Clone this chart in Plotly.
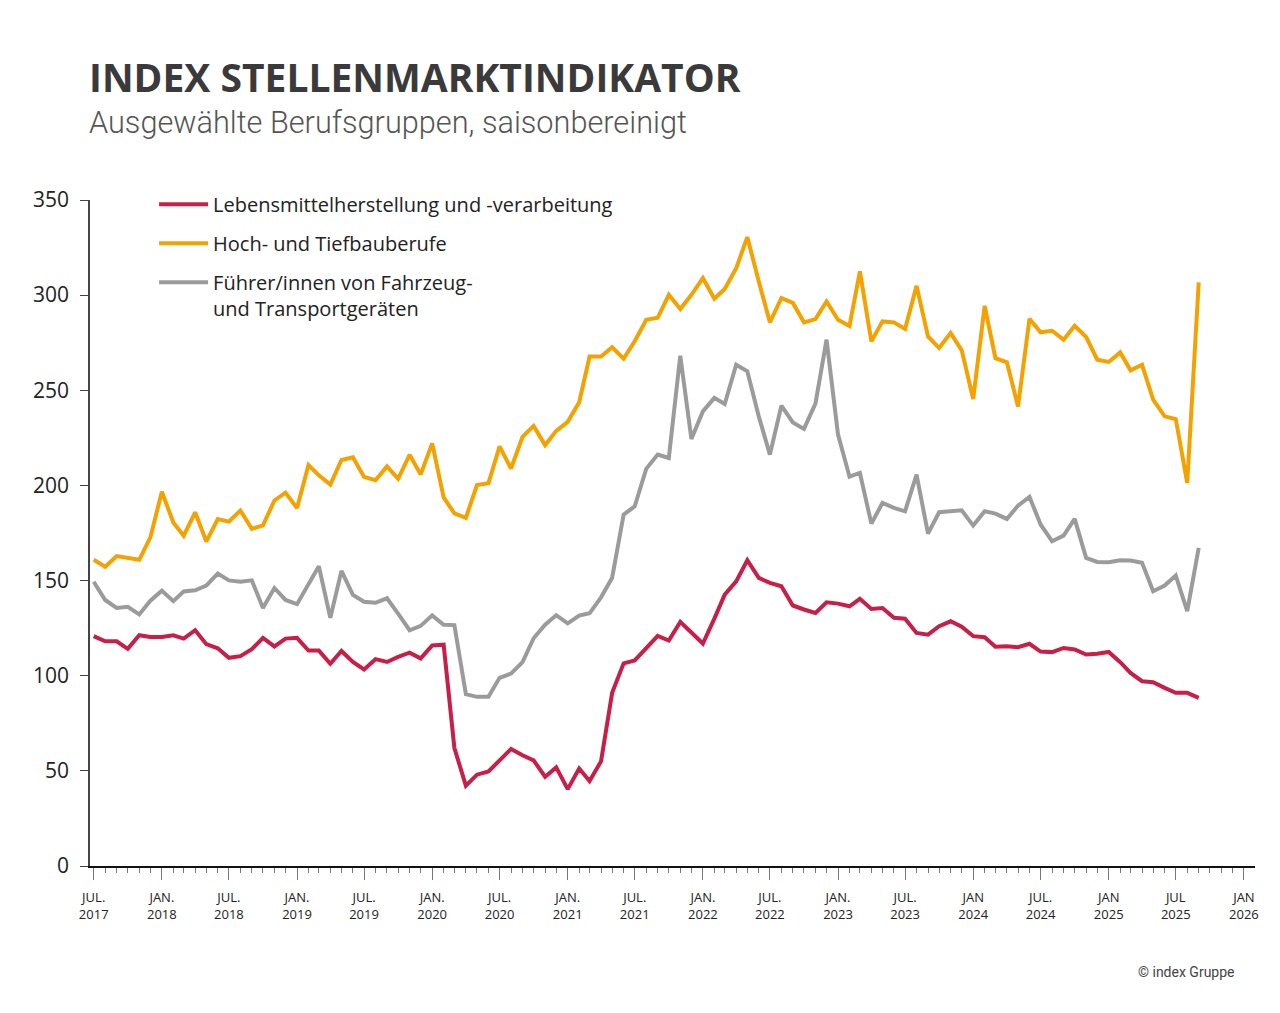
import plotly.graph_objects as go
import pandas as pd

# ---------------- data ----------------
months = pd.date_range("2017-07-01", "2025-09-01", freq="MS")

lebensmittel = [
    120.8, 118.1, 118.1, 114.1, 121.3, 120.3, 120.3, 121.2, 119.5, 123.9,
    116.6, 114.4, 109.4, 110.3, 113.9, 119.9, 115.4, 119.5, 119.9, 113.2,
    113.2, 106.3, 113.0, 107.2, 103.3, 108.7, 107.2, 109.9, 112.1, 109.1,
    115.9, 116.3, 62.0, 42.2, 48.0, 49.7, 55.5, 61.5, 58.2, 55.5,
    46.9, 51.8, 40.4, 51.2, 44.7, 55.0, 91.0, 106.5, 108.0, 114.4,
    120.9, 118.5, 128.3, 122.7, 116.9, 130.0, 142.6, 149.6, 160.7, 151.4,
    148.8, 147.0, 136.9, 134.8, 133.0, 138.6, 137.9, 136.5, 140.4, 135.1,
    135.6, 130.4, 130.0, 122.5, 121.6, 126.0, 128.6, 125.7, 120.8, 120.2,
    115.2, 115.5, 115.0, 116.8, 112.7, 112.4, 114.6, 113.8, 111.1, 111.5,
    112.5, 107.1, 101.5, 97.1, 96.6, 93.6, 91.0, 91.0, 88.4,
]

hochbau = [
    160.9, 157.3, 162.9, 162.0, 160.9, 172.7, 196.7, 180.5, 173.6, 185.9,
    170.5, 182.3, 181.0, 186.8, 177.2, 179.0, 192.1, 196.2, 188.1, 210.7,
    205.3, 200.4, 213.4, 214.8, 204.5, 202.7, 210.0, 203.5, 216.1, 205.8,
    222.1, 193.7, 185.3, 183.0, 200.2, 201.2, 220.5, 208.9, 225.5, 231.3,
    221.2, 228.7, 233.4, 243.7, 267.7, 267.7, 272.6, 266.6, 275.8, 287.0,
    288.1, 300.2, 292.7, 300.2, 309.0, 298.1, 303.2, 314.2, 330.5, 307.2,
    285.7, 298.5, 295.9, 285.7, 287.4, 296.7, 287.1, 283.8, 312.5, 275.7,
    286.2, 285.7, 282.2, 304.9, 278.3, 272.2, 280.1, 271.0, 245.4, 294.4,
    266.9, 264.7, 241.5, 287.6, 280.5, 281.3, 276.6, 283.9, 278.0, 266.1,
    264.9, 269.9, 260.5, 263.4, 245.1, 236.3, 234.9, 201.3, 306.7,
]

fuehrer = [
    149.4, 139.8, 135.6, 136.2, 132.2, 139.4, 144.7, 139.2, 144.3, 144.9,
    147.4, 153.7, 150.1, 149.4, 150.1, 135.6, 146.1, 139.8, 137.6, 147.9,
    157.5, 130.4, 155.1, 142.5, 138.9, 138.3, 140.7, 132.6, 123.9, 126.2,
    131.7, 126.8, 126.6, 90.3, 88.9, 88.9, 98.9, 101.1, 107.1, 119.7,
    126.8, 131.8, 127.5, 131.6, 132.8, 141.2, 151.5, 184.7, 189.0, 208.7,
    216.2, 214.4, 268.2, 224.4, 238.9, 246.0, 242.8, 263.4, 260.0, 236.3,
    216.2, 241.9, 233.1, 229.7, 243.0, 276.6, 226.7, 204.6, 206.6, 179.9,
    190.8, 188.2, 186.4, 205.7, 174.7, 185.9, 186.4, 186.9, 178.9, 186.4,
    185.2, 182.4, 189.4, 194.0, 179.5, 170.7, 173.6, 182.4, 161.9, 159.8,
    159.6, 160.7, 160.5, 159.3, 144.4, 147.4, 152.6, 133.9, 167.2,
]

series_names = [
    "Lebensmittelherstellung und -verarbeitung",
    "Hoch- und Tiefbauberufe",
    "Führer/innen von Fahrzeug-<br>und Transportgeräten",
]
series_colors = ["#C81F48", "#F5A100", "#9B9B9B"]

tick_dates = pd.date_range("2017-07-01", "2026-01-01", freq="6MS")
tick_labels = [
    "JUL.<br>2017", "JAN.<br>2018", "JUL.<br>2018", "JAN.<br>2019",
    "JUL.<br>2019", "JAN.<br>2020", "JUL.<br>2020", "JAN.<br>2021",
    "JUL.<br>2021", "JAN.<br>2022", "JUL.<br>2022", "JAN.<br>2023",
    "JUL.<br>2023", "JAN<br>2024", "JUL.<br>2024", "JAN<br>2025",
    "JUL<br>2025", "JAN<br>2026",
]
y_ticks = [0, 50, 100, 150, 200, 250, 300, 350]

title_text = "INDEX STELLENMARKTINDIKATOR"
subtitle_text = "Ausgewählte Berufsgruppen, saisonbereinigt"
source_text = "© index Gruppe"

# ---------------- figure ----------------
FONT = "Open Sans"
fig = go.Figure()
for name, vals, col in zip(series_names, [lebensmittel, hochbau, fuehrer], series_colors):
    fig.add_trace(go.Scatter(
        x=months, y=vals, mode="lines", name=name, legendgroup=name,
        line=dict(color=col, width=4),
        hoverinfo="skip",
    ))

fig.update_layout(
    width=1280, height=1013,
    margin=dict(l=82, r=33, t=192, b=155),
    paper_bgcolor="white", plot_bgcolor="white",
    font=dict(family=FONT, color="#222222"),
    showlegend=True,
    legend=dict(
        x=0.055, y=1.023, xanchor="left", yanchor="top",
        font=dict(family=FONT, size=20, color="#222222"),
        bgcolor="rgba(0,0,0,0)", borderwidth=0,
        tracegroupgap=10, valign="top", itemwidth=49,
    ),
    xaxis=dict(
        type="date",
        range=["2017-06-21", "2026-01-31"],
        showgrid=False, zeroline=False,
        showline=True, linecolor="#111111", linewidth=2,
        tickmode="array", tickvals=tick_dates, ticktext=tick_labels,
        ticks="outside", ticklen=12, tickwidth=1, tickcolor="#777777",
        tickfont=dict(family=FONT, size=13, color="#222222"),
        ticklabelstandoff=6,
        minor=dict(ticks="outside", ticklen=5, tickwidth=1, tickcolor="#777777",
                   dtick="M1", tick0="2017-07-01", showgrid=False),
    ),
    yaxis=dict(
        range=[0, 350],
        tickvals=y_ticks,
        showgrid=False, zeroline=False,
        showline=True, linecolor="#444444", linewidth=1.5,
        ticks="outside", ticklen=8, tickwidth=1, tickcolor="#444444",
        tickfont=dict(family=FONT, size=21, color="#222222"),
        ticklabelstandoff=7,
    ),
    annotations=[
        dict(text=title_text, xref="paper", yref="paper", x=-0.003, y=1.185,
             xanchor="left", yanchor="middle", showarrow=False,
             font=dict(family=FONT, size=39, color="#3a3a3a", weight=700)),
        dict(text=subtitle_text, xref="paper", yref="paper", x=-0.003, y=1.117,
             xanchor="left", yanchor="middle", showarrow=False,
             font=dict(family="Roboto", size=30.7, color="#555555", weight=300)),
        dict(text=source_text, xref="paper", yref="paper", x=0.9845, y=-0.159,
             xanchor="right", yanchor="middle", showarrow=False,
             font=dict(family="Roboto", size=14, color="#444444")),
    ],
)

fig.write_html("out.html")
